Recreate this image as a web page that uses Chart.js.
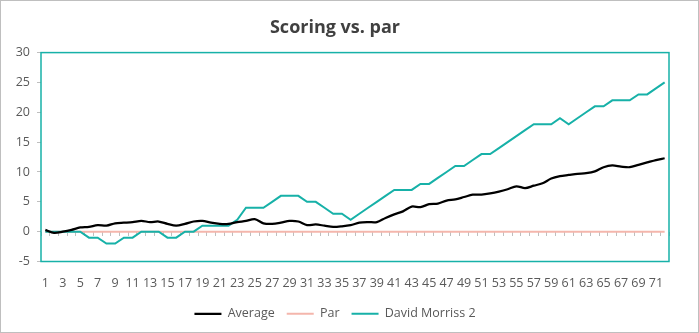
<!DOCTYPE html>
<html>
<head>
<meta charset="utf-8">
<title>Scoring vs. par</title>
<script src="https://cdn.jsdelivr.net/npm/chart.js@4.4.1/dist/chart.umd.min.js"></script>
<style>
  html, body { margin: 0; padding: 0; background: #fff; }
  #wrap {
    width: 699px; height: 333px; box-sizing: border-box;
    border: 1px solid #bfbfbf; background: #fff;
  }
  #chart { display: block; }
</style>
</head>
<body>
<div id="wrap"><canvas id="chart" width="697" height="331"></canvas></div>
<script>
// ---- data ----
const holes = Array.from({ length: 72 }, (_, i) => String(i + 1));

const averageScores = [
  0.3, -0.2, 0.0, 0.3, 0.7, 0.8, 1.1, 1.0, 1.4, 1.5, 1.6, 1.8,
  1.6, 1.7, 1.3, 1.0, 1.3, 1.7, 1.8, 1.5, 1.3, 1.3, 1.6, 1.8,
  2.1, 1.4, 1.3, 1.5, 1.8, 1.7, 1.1, 1.2, 1.0, 0.8, 0.9, 1.1,
  1.5, 1.6, 1.6, 2.3, 2.9, 3.4, 4.2, 4.1, 4.6, 4.7, 5.2, 5.4,
  5.8, 6.2, 6.2, 6.4, 6.7, 7.1, 7.6, 7.3, 7.7, 8.1, 8.9, 9.3,
  9.5, 9.7, 9.8, 10.1, 10.8, 11.1, 10.9, 10.8, 11.2, 11.6, 12.0, 12.3
];

const parScores = holes.map(() => 0);

const davidScores = [
  0, 0, 0, 0, 0, -1, -1, -2, -2, -1, -1, 0,
  0, 0, -1, -1, 0, 0, 1, 1, 1, 1, 2, 4,
  4, 4, 5, 6, 6, 6, 5, 5, 4, 3, 3, 2,
  3, 4, 5, 6, 7, 7, 7, 8, 8, 9, 10, 11,
  11, 12, 13, 13, 14, 15, 16, 17, 18, 18, 18, 19,
  18, 19, 20, 21, 21, 22, 22, 22, 23, 23, 24, 25
];

const yMin = -5, yMax = 30, yStep = 5;

// ---- styling ----
const TEXT = '#595959';
const FONT = "'Open Sans', 'Noto Sans', sans-serif";

// plot area outline in teal, like the workbook's chart
const plotBorder = {
  id: 'plotBorder',
  afterDraw(chart) {
    const { ctx, chartArea: a } = chart;
    ctx.save();
    ctx.strokeStyle = '#17b1a8';
    ctx.lineWidth = 1.5;
    ctx.strokeRect(a.left, a.top, a.right - a.left, a.bottom - a.top);
    ctx.restore();
  }
};

new Chart(document.getElementById('chart'), {
  type: 'line',
  data: {
    labels: holes,
    datasets: [
      {
        label: 'Average',
        data: averageScores,
        borderColor: '#000000',
        backgroundColor: '#000000',
        borderWidth: 2.25,
        pointRadius: 0,
        tension: 0.3,
        order: 1
      },
      {
        label: 'Par',
        data: parScores,
        borderColor: '#f4b6ac',
        backgroundColor: '#f4b6ac',
        borderWidth: 2,
        pointRadius: 0,
        order: 3
      },
      {
        label: 'David Morriss 2',
        data: davidScores,
        borderColor: '#17b1a8',
        backgroundColor: '#17b1a8',
        borderWidth: 2,
        pointRadius: 0,
        tension: 0,
        order: 2
      }
    ]
  },
  options: {
    responsive: false,
    animation: false,
    events: [],
    layout: { padding: { left: 0, right: 29, top: 0, bottom: 2 } },
    plugins: {
      title: {
        display: true,
        text: 'Scoring vs. par',
        color: '#404040',
        font: { family: FONT, size: 18, weight: 'bold' },
        padding: { top: 16, bottom: 14 }
      },
      legend: {
        position: 'bottom',
        labels: {
          color: TEXT,
          font: { family: FONT, size: 12.5 },
          usePointStyle: true,
          pointStyle: 'line',
          pointStyleWidth: 27,
          padding: 12,
          // keep the legend in series order, not drawing order
          sort: (a, b) => a.datasetIndex - b.datasetIndex
        }
      },
      tooltip: { enabled: false }
    },
    scales: {
      x: {
        type: 'category',
        offset: true,
        grid: { display: false },
        border: { display: false },
        ticks: {
          color: TEXT,
          font: { family: FONT, size: 12.5 },
          autoSkip: false,
          maxRotation: 0,
          padding: 6,
          callback(value, index) {
            return index % 2 === 0 ? this.getLabelForValue(value) : '';
          }
        },
        afterFit(scale) { scale.height = 34; }
      },
      // tick marks along the zero line
      xZero: {
        type: 'category',
        axis: 'x',
        position: { y: 0 },
        offset: true,
        grid: {
          offset: true,
          drawOnChartArea: false,
          drawTicks: true,
          tickLength: 4,
          color: '#bfbfbf'
        },
        border: { display: false },
        ticks: { display: false }
      },
      y: {
        min: yMin,
        max: yMax,
        ticks: {
          stepSize: yStep,
          color: TEXT,
          font: { family: FONT, size: 12.5 },
          padding: 7
        },
        grid: {
          drawOnChartArea: false,
          drawTicks: true,
          tickLength: 4,
          color: '#bfbfbf'
        },
        border: { display: false },
        afterFit(scale) { scale.width = 40; }
      }
    }
  },
  plugins: [plotBorder]
});
</script>
</body>
</html>
